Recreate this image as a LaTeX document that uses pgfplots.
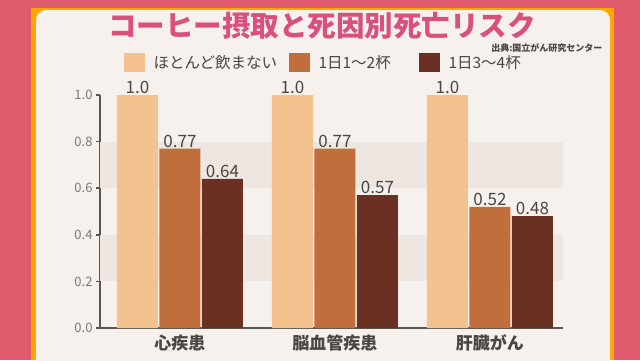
\documentclass[border=0pt]{standalone}
\usepackage{pgfplots}
\pgfplotsset{compat=1.18}
\usepackage{fontspec}
\setmainfont{Noto Sans CJK JP}
\definecolor{c1}{HTML}{F4C28E}
\definecolor{c2}{HTML}{BF6E3C}
\definecolor{c3}{HTML}{6A3022}
\definecolor{card}{HTML}{F6F1EC}
\definecolor{band}{HTML}{EEE7E1}
\definecolor{frame}{HTML}{E05C6C}
\definecolor{titlepink}{HTML}{D9507E}
\definecolor{axgray}{HTML}{5A5552}
\definecolor{txt}{HTML}{4A4543}
\begin{document}
\begin{tikzpicture}[x=1pt,y=1pt]
\useasboundingbox (0,0) rectangle (640,360);
\clip (0,0) rectangle (640,360);
\fill[frame] (0,0) rectangle (640,360);
\fill[orange!70!yellow] (31,0) rectangle (614,352);
\fill[card, rounded corners=10pt] (36,-10) rectangle (610,350);
\node[font=\fontsize{28.5}{28.5}\selectfont\bfseries, text=titlepink] at (322,334) {コーヒー摂取と死因別死亡リスク};
\node[font=\fontsize{9}{9}\selectfont\bfseries, text=txt, anchor=east] at (606,312) {出典:国立がん研究センター};
\fill[c1] (124,288) rectangle (145,307);
\node[anchor=west, font=\fontsize{15.5}{15.5}\selectfont, text=txt] at (150,297.5) {ほとんど飲まない};
\fill[c2] (289,288) rectangle (310,307);
\node[anchor=west, font=\fontsize{15.5}{15.5}\selectfont, text=txt] at (315,297.5) {1日1～2杯};
\fill[c3] (419,288) rectangle (440,307);
\node[anchor=west, font=\fontsize{15.5}{15.5}\selectfont, text=txt] at (445,297.5) {1日3～4杯};
\begin{axis}[
  at={(100pt,32pt)}, anchor=south west,
  scale only axis, width=463pt, height=233pt,
  xmin=-0.516, xmax=2.471, ymin=0, ymax=1.0,
  axis lines*=left,
  axis line style={axgray, line width=2pt},
  ybar=1.5pt, bar width=41pt,
  xtick={0,1,2}, xticklabels={心疾患,脳血管疾患,肝臓がん},
  xtick style={draw=none},
  xticklabel style={font=\fontsize{17}{17}\selectfont\bfseries, text=txt, yshift=1pt},
  ytick={0,0.2,0.4,0.6,0.8,1.0},
  yticklabel style={font=\fontsize{13}{13}\selectfont, text=axgray!80, /pgf/number format/fixed, /pgf/number format/fixed zerofill, /pgf/number format/precision=1, /pgf/number format/assume math mode=true},
  ytick style={axgray, line width=1.5pt},
  tick align=outside, major tick length=4pt,
  clip=false,
  point meta=explicit symbolic,
  nodes near coords,
  nodes near coords style={font=\fontsize{17}{17}\selectfont, text=txt, inner sep=1pt, yshift=0pt},
]
\fill[band] (axis cs:-0.516,0.6) rectangle (axis cs:2.471,0.8);
\fill[band] (axis cs:-0.516,0.2) rectangle (axis cs:2.471,0.4);
\addplot[fill=c1, draw=none] coordinates {(0,1.0) [1.0] (1,1.0) [1.0] (2,1.0) [1.0]};
\addplot[fill=c2, draw=none] coordinates {(0,0.77) [0.77] (1,0.77) [0.77] (2,0.52) [0.52]};
\addplot[fill=c3, draw=none] coordinates {(0,0.64) [0.64] (1,0.57) [0.57] (2,0.48) [0.48]};
\end{axis}
\end{tikzpicture}
\end{document}
